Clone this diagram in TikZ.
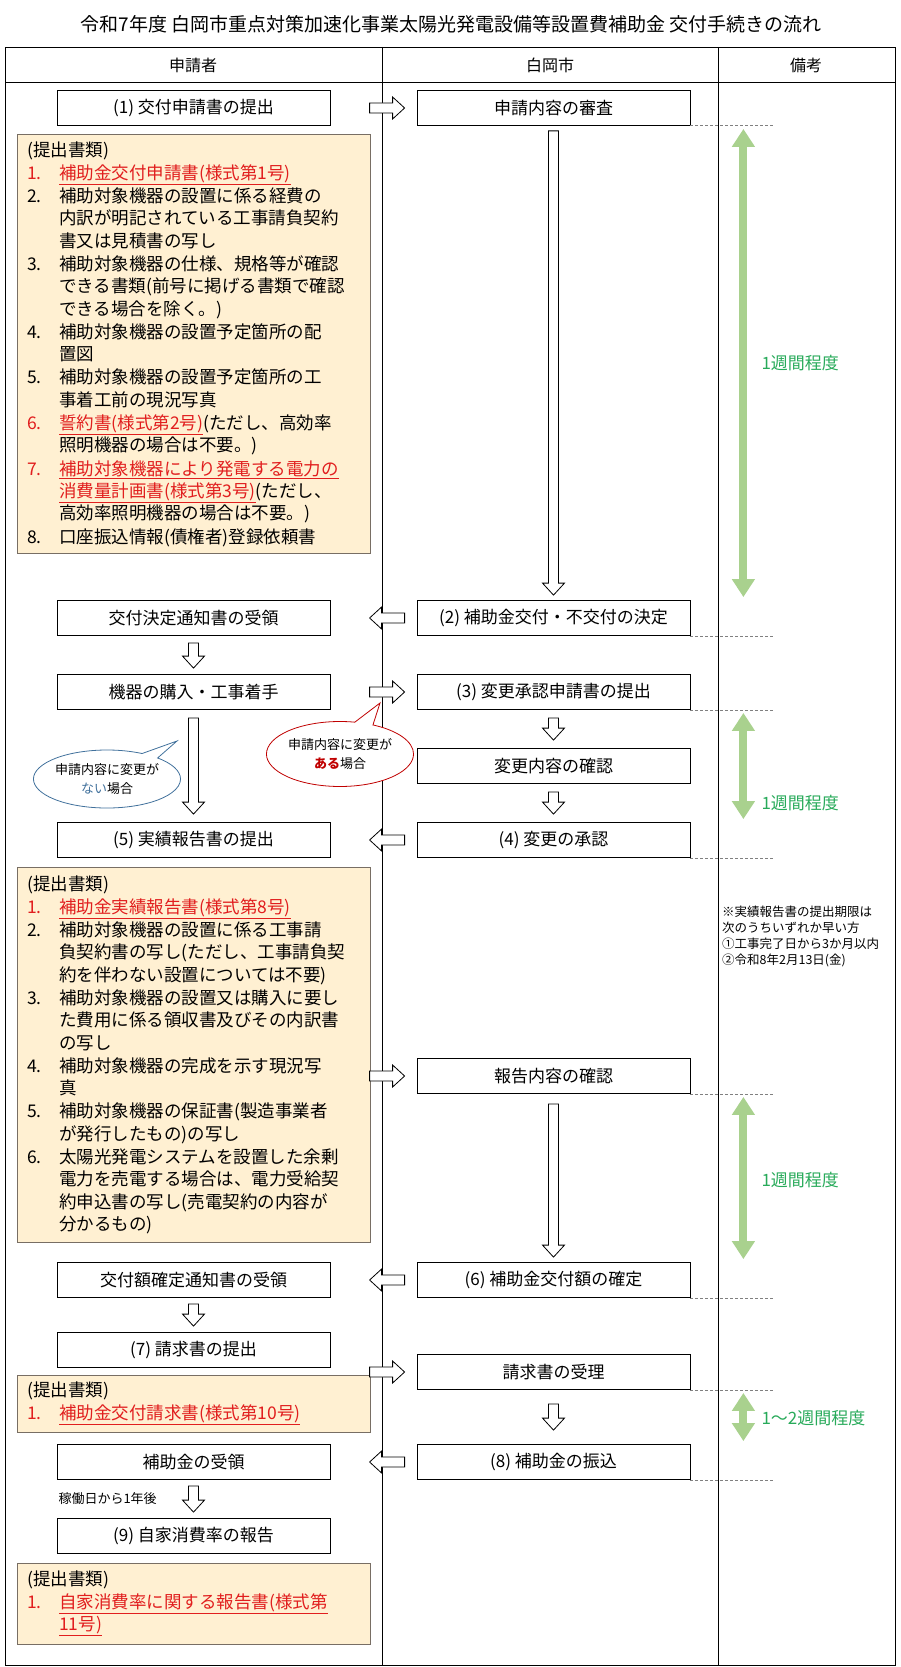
\documentclass[tikz,border=0pt]{standalone}
\usepackage{fontspec}
\setmainfont{Noto Sans CJK JP}
\usetikzlibrary{positioning,calc,arrows.meta,shapes.callouts}

\definecolor{docfill}{RGB}{255,240,210}
\definecolor{docline}{RGB}{120,110,100}
\definecolor{redtxt}{RGB}{225,30,30}
\definecolor{spangreen}{RGB}{169,209,142}
\definecolor{spantxt}{RGB}{40,170,90}
\definecolor{bluecall}{RGB}{65,113,156}
\definecolor{redcall}{RGB}{192,0,0}

% red underlined form names
\newcommand\formname[1]{\textcolor{redtxt}{\underline{#1}}}
\newcommand\itm[1]{\makebox[32pt][l]{#1}}
\newcommand\cont{\hspace*{32pt}}

% hollow block arrows between two points
\newcommand\downarr[2]{\draw[harrow] let \p1=#1, \p2=#2 in
  ({\x1-5pt},{\y1}) -- ({\x1+5pt},{\y1}) -- ({\x1+5pt},{\y2+12pt}) -- ({\x1+11pt},{\y2+12pt})
  -- ({\x1},{\y2}) -- ({\x1-11pt},{\y2+12pt}) -- ({\x1-5pt},{\y2+12pt}) -- cycle;}
\newcommand\rightarr[2]{\draw[harrow] let \p1=#1, \p2=#2 in
  ({\x1},{\y1+5pt}) -- ({\x2-12pt},{\y1+5pt}) -- ({\x2-12pt},{\y1+11pt}) -- ({\x2},{\y1})
  -- ({\x2-12pt},{\y1-11pt}) -- ({\x2-12pt},{\y1-5pt}) -- ({\x1},{\y1-5pt}) -- cycle;}
\newcommand\leftarr[2]{\draw[harrow] let \p1=#1, \p2=#2 in
  ({\x1},{\y1+5pt}) -- ({\x2+12pt},{\y1+5pt}) -- ({\x2+12pt},{\y1+11pt}) -- ({\x2},{\y1})
  -- ({\x2+12pt},{\y1-11pt}) -- ({\x2+12pt},{\y1-5pt}) -- ({\x1},{\y1-5pt}) -- cycle;}

\begin{document}
\begin{tikzpicture}[x=1pt,y=-1pt,
  stepbox/.style={draw,thick,minimum width=273pt,minimum height=35pt,inner sep=0pt,font=\fontsize{17}{20}\selectfont},
  docbox/.style={draw=docline,thick,fill=docfill},
  doctext/.style={anchor=north west,align=left,inner sep=0pt,font=\fontsize{17.5}{22.3}\selectfont},
  harrow/.style={draw,thick,fill=white},
  dashline/.style={draw=gray,densely dashed,thick},
  spanarr/.style={draw=spangreen,line width=8pt,{Triangle[width=22pt,length=18pt]}-{Triangle[width=22pt,length=18pt]}},
  spanlabel/.style={anchor=west,text=spantxt,font=\fontsize{17}{20}\selectfont},
  callout/.style={ellipse callout,draw,thick,fill=white,inner sep=0pt,align=center,font=\fontsize{13}{19}\selectfont}]
\useasboundingbox (0,0) rectangle (900,1667);

% title and table
\node (title) at (451,24) {\fontsize{19}{22}\selectfont 令和7年度\ 白岡市重点対策加速化事業太陽光発電設備等設置費補助金\ 交付手続きの流れ};
\draw[thick] (5,47) rectangle (895,1665);
\draw[thick] (5,82) -- (895,82);
\draw[thick] (382,47) -- (382,1665);
\draw[thick] (718,47) -- (718,1665);
\node[font=\fontsize{16}{20}\selectfont] (h1) at (193,65) {申請者};
\node[font=\fontsize{16}{20}\selectfont] (h2) at (550,65) {白岡市};
\node[font=\fontsize{16}{20}\selectfont] (h3) at (806,65) {備考};

% applicant column
\node[stepbox] (l1) at (193.5,108) {(1) 交付申請書の提出};
\node[stepbox] (l2) at (193.5,618) {交付決定通知書の受領};
\node[stepbox] (l3) at (193.5,692) {機器の購入・工事着手};
\node[stepbox] (l5) at (193.5,840) {(5) 実績報告書の提出};
\node[stepbox] (l6) at (193.5,1280) {交付額確定通知書の受領};
\node[stepbox] (l7) at (193.5,1350) {(7) 請求書の提出};
\node[stepbox] (l8) at (193.5,1462) {補助金の受領};
\node[stepbox] (l9) at (193.5,1536) {(9) 自家消費率の報告};

% city column
\node[stepbox] (r0) at (553.5,108) {申請内容の審査};
\node[stepbox] (r2) at (553.5,618) {(2) 補助金交付・不交付の決定};
\node[stepbox] (r3) at (553.5,692) {(3) 変更承認申請書の提出};
\node[stepbox] (rc) at (553.5,766) {変更内容の確認};
\node[stepbox] (r4) at (553.5,840) {(4) 変更の承認};
\node[stepbox] (r5) at (553.5,1076) {報告内容の確認};
\node[stepbox] (r6) at (553.5,1280) {(6) 補助金交付額の確定};
\node[stepbox] (r7) at (553.5,1372) {請求書の受理};
\node[stepbox] (r8) at (553.5,1462) {(8) 補助金の振込};

% documents
\draw[docbox] (17,134) rectangle (370,553);
\node[doctext] (doc1) at (27,142) {(提出書類)\\
\textcolor{redtxt}{\itm{1.}}\formname{補助金交付申請書(様式第1号)}\\[1pt]
\itm{2.}補助対象機器の設置に係る経費の\\ \cont 内訳が明記されている工事請負契約\\ \cont 書又は見積書の写し\\[1pt]
\itm{3.}補助対象機器の仕様、規格等が確認\\ \cont できる書類(前号に掲げる書類で確認\\ \cont できる場合を除く。)\\[1pt]
\itm{4.}補助対象機器の設置予定箇所の配\\ \cont 置図\\[1pt]
\itm{5.}補助対象機器の設置予定箇所の工\\ \cont 事着工前の現況写真\\[1pt]
\textcolor{redtxt}{\itm{6.}}\formname{誓約書(様式第2号)}(ただし、高効率\\ \cont 照明機器の場合は不要。)\\[1pt]
\textcolor{redtxt}{\itm{7.}}\formname{補助対象機器により発電する電力の}\\ \cont \formname{消費量計画書(様式第3号)}(ただし、\\ \cont 高効率照明機器の場合は不要。)\\[1pt]
\itm{8.}口座振込情報(債権者)登録依頼書};

\draw[docbox] (17,867) rectangle (370,1242);
\node[doctext] (doc2) at (27,876) {(提出書類)\\
\textcolor{redtxt}{\itm{1.}}\formname{補助金実績報告書(様式第8号)}\\[1pt]
\itm{2.}補助対象機器の設置に係る工事請\\ \cont 負契約書の写し(ただし、工事請負契\\ \cont 約を伴わない設置については不要)\\[1pt]
\itm{3.}補助対象機器の設置又は購入に要し\\ \cont た費用に係る領収書及びその内訳書\\ \cont の写し\\[1pt]
\itm{4.}補助対象機器の完成を示す現況写\\ \cont 真\\[1pt]
\itm{5.}補助対象機器の保証書(製造事業者\\ \cont が発行したもの)の写し\\[1pt]
\itm{6.}太陽光発電システムを設置した余剰\\ \cont 電力を売電する場合は、電力受給契\\ \cont 約申込書の写し(売電契約の内容が\\ \cont 分かるもの)};

\draw[docbox] (17,1375) rectangle (370,1432);
\node[doctext] (doc3) at (27,1382) {(提出書類)\\
\textcolor{redtxt}{\itm{1.}}\formname{補助金交付請求書(様式第10号)}};

\draw[docbox] (17,1563) rectangle (370,1644);
\node[doctext] (doc4) at (27,1571) {(提出書類)\\
\textcolor{redtxt}{\itm{1.}}\formname{自家消費率に関する報告書(様式第}\\ \cont \formname{11号)}};

% vertical flow
\downarr{($(r0.south)+(0,5)$)}{($(r2.north)+(0,-5)$)}
\downarr{($(l2.south)+(0,7)$)}{($(l3.north)+(0,-6)$)}
\downarr{($(l3.south)+(0,8)$)}{($(l5.north)+(0,-8)$)}
\downarr{($(r3.south)+(0,8)$)}{($(rc.north)+(0,-8)$)}
\downarr{($(rc.south)+(0,8)$)}{($(r4.north)+(0,-8)$)}
\downarr{($(r5.south)+(0,10)$)}{($(r6.north)+(0,-5)$)}
\downarr{($(l6.south)+(0,6)$)}{($(l7.north)+(0,-6)$)}
\downarr{($(r7.south)+(0,14)$)}{($(r8.north)+(0,-14)$)}
\downarr{($(l8.south)+(0,6)$)}{($(l9.north)+(0,-6)$)}
\node[anchor=west,font=\fontsize{13}{16}\selectfont] (later) at (55,1499) {稼働日から1年後};

% between columns
\rightarr{($(r0.west)+(-47,0)$)}{($(r0.west)+(-12,0)$)}
\leftarr{($(r2.west)+(-12,0)$)}{($(r2.west)+(-47,0)$)}
\rightarr{($(r3.west)+(-47,0)$)}{($(r3.west)+(-12,0)$)}
\leftarr{($(r4.west)+(-12,0)$)}{($(r4.west)+(-47,0)$)}
\rightarr{($(r5.west)+(-47,0)$)}{($(r5.west)+(-12,0)$)}
\leftarr{($(r6.west)+(-12,0)$)}{($(r6.west)+(-47,0)$)}
\rightarr{($(r7.west)+(-47,0)$)}{($(r7.west)+(-12,0)$)}
\leftarr{($(r8.west)+(-12,0)$)}{($(r8.west)+(-47,0)$)}

% callouts
\node[callout,draw=bluecall,minimum width=130pt,minimum height=58pt,callout absolute pointer={(177,741)}]
  (nochange) at (107,779) {申請内容に変更が\\\textcolor{bluecall}{ない}場合};
\node[callout,draw=redcall,minimum width=132pt,minimum height=65pt,callout absolute pointer={(380,703)}]
  (change) at (340,754) {申請内容に変更が\\\textcolor{redcall}{\bfseries ある}場合};

% durations
\foreach \n in {r0,r2,r3,r4,r5,r6,r7,r8}
  \draw[dashline] (\n.south east) -- ++(83,0);
\draw[spanarr] ($(r0.south east)+(53,3)$) -- ($(r2.north east)+(53,-3)$);
\draw[spanarr] ($(r3.south east)+(53,3)$) -- ($(r4.north east)+(53,-3)$);
\draw[spanarr] ($(r5.south east)+(53,3)$) -- ($(r6.north east)+(53,-3)$);
\draw[spanarr] ($(r7.south east)+(53,3)$) -- ($(r8.north east)+(53,-3)$);
\node[spanlabel] (w1) at (758,363) {1週間程度};
\node[spanlabel] (w2) at (758,803) {1週間程度};
\node[spanlabel] (w3) at (758,1180) {1週間程度};
\node[spanlabel] (w4) at (758,1418) {1～2週間程度};

% note
\node[anchor=north west,align=left,inner sep=0pt,font=\fontsize{12.5}{16}\selectfont] (note) at (722,906)
  {※実績報告書の提出期限は\\次のうちいずれか早い方\\①工事完了日から3か月以内\\②令和8年2月13日(金)};
\end{tikzpicture}
\end{document}
